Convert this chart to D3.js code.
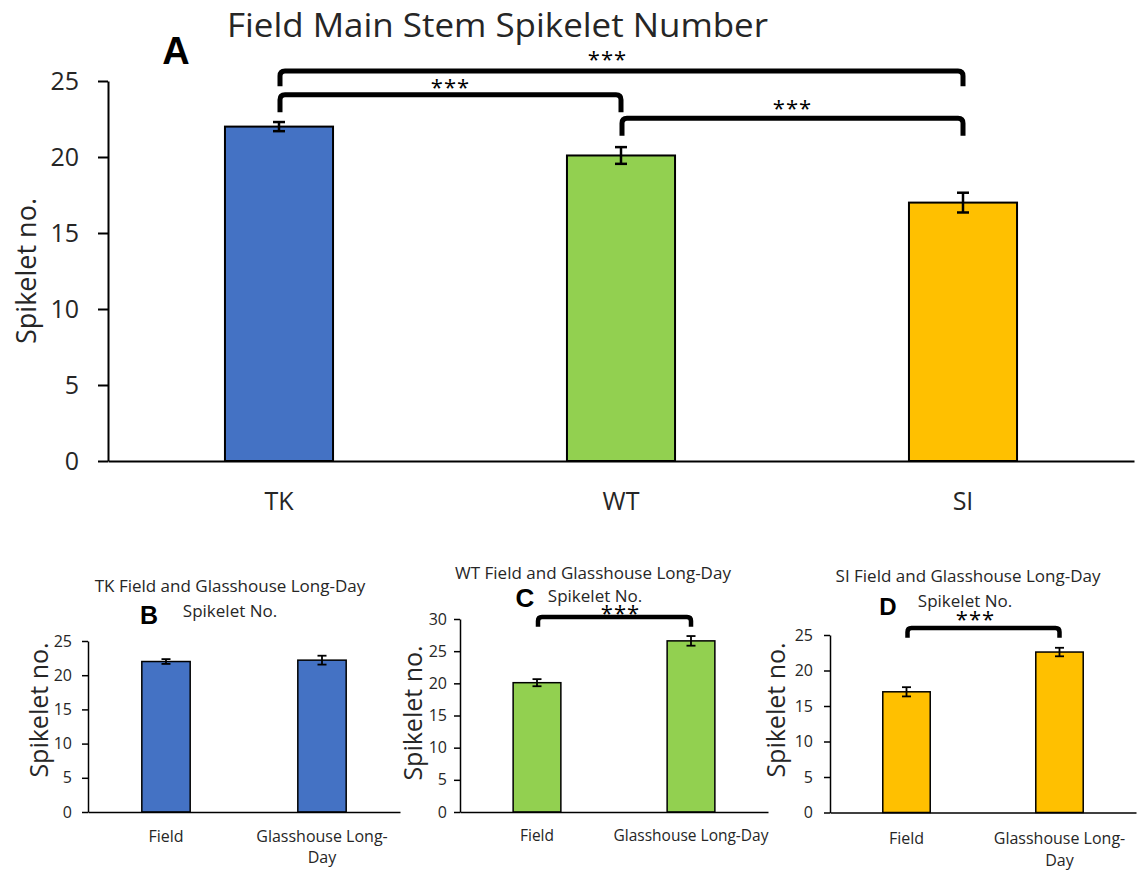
<!DOCTYPE html>
<html>
<head>
<meta charset="utf-8">
<script src="https://cdn.jsdelivr.net/npm/d3@7"></script>
<style>
  html, body { margin: 0; padding: 0; background: #fff; }
  svg { display: block; font-family: "Open Sans", sans-serif; }
</style>
</head>
<body>
<svg id="chart" width="1138" height="870"></svg>
<script>
// ---- Main stem spikelet number of field-grown plants ----
const mainTitle = "Field Main Stem Spikelet Number";
const genotypes = ["TK", "WT", "SI"];
const fieldMeans = [22.0, 20.1, 17.0];
const fieldErrors = [0.3, 0.55, 0.65];
const mainTicks = [0, 5, 10, 15, 20, 25];

// ---- Field vs glasshouse long-day, one small chart per genotype ----
const environments = ["Field", "Glasshouse Long-Day"];
const tkMeans = [22.0, 22.2];
const tkErrors = [0.35, 0.65];
const wtMeans = [20.1, 26.6];
const wtErrors = [0.55, 0.75];
const siMeans = [17.0, 22.6];
const siErrors = [0.65, 0.6];
const tkTicks = [0, 5, 10, 15, 20, 25];
const wtTicks = [0, 5, 10, 15, 20, 25, 30];
const siTicks = [0, 5, 10, 15, 20, 25];

// Category labels, wrapped the way each small chart wraps them
const tkEnvLabels = [["Field"], ["Glasshouse Long-", "Day"]];
const wtEnvLabels = [["Field"], ["Glasshouse Long-Day"]];
const siEnvLabels = [["Field"], ["Glasshouse Long-", "Day"]];

// Significance comparisons: [first index, second index, label]
const mainComparisons = [[0, 2, "***"], [0, 1, "***"], [1, 2, "***"]];
const envComparison = [[0, 1, "***"]];

// Fill colour per genotype
const genotypeColors = { TK: "#4472C4", WT: "#92D050", SI: "#FFC000" };
const textColor = "#262626";

const svg = d3.select("#chart");

function drawPanel(o) {
  const g = svg.append("g");
  const x = d3.scaleBand().domain(o.categories).range([o.left, o.right]).padding(0);
  const y = d3.scaleLinear().domain([0, o.yMax]).range([o.bottom, o.top]);
  const bw = x.bandwidth() * o.barFrac;
  const cx = c => x(c) + x.bandwidth() / 2;
  const rows = o.categories.map((c, i) => ({ c, m: o.means[i], e: o.errors[i] }));

  // bars
  g.append("g").selectAll("rect").data(rows).join("rect")
    .attr("x", d => cx(d.c) - bw / 2)
    .attr("y", d => y(d.m))
    .attr("width", bw)
    .attr("height", d => y(0) - y(d.m))
    .attr("fill", o.color)
    .attr("stroke", "#000")
    .attr("stroke-width", o.barStroke);

  // error bars
  const eb = g.append("g").attr("stroke", "#000").attr("stroke-width", o.errStroke);
  eb.selectAll("line.v").data(rows).join("line").attr("class", "v")
    .attr("x1", d => cx(d.c)).attr("x2", d => cx(d.c))
    .attr("y1", d => y(d.m + d.e)).attr("y2", d => y(d.m - d.e));
  eb.selectAll("line.t").data(rows).join("line").attr("class", "t")
    .attr("x1", d => cx(d.c) - o.cap).attr("x2", d => cx(d.c) + o.cap)
    .attr("y1", d => y(d.m + d.e)).attr("y2", d => y(d.m + d.e));
  eb.selectAll("line.b").data(rows).join("line").attr("class", "b")
    .attr("x1", d => cx(d.c) - o.cap).attr("x2", d => cx(d.c) + o.cap)
    .attr("y1", d => y(d.m - d.e)).attr("y2", d => y(d.m - d.e));

  // category axis
  const gx = g.append("g")
    .attr("transform", `translate(0,${y(0)})`)
    .call(d3.axisBottom(x).tickSize(0).tickSizeOuter(0).tickPadding(0));
  gx.attr("font-family", null).attr("font-size", o.xFont);
  gx.select(".domain").attr("stroke", "#000").attr("stroke-width", o.axisW);
  gx.selectAll(".tick text").each(function (d, i) {
    const t = d3.select(this)
      .attr("dy", null)
      .attr("y", o.xLabelY)
      .attr("fill", textColor)
      .attr("dominant-baseline", "central")
      .text(null);
    o.labels[i].forEach((line, j) => {
      t.append("tspan").attr("x", 0).attr("dy", j ? o.lineH : 0).text(line);
    });
  });

  // value axis
  const gy = g.append("g")
    .attr("transform", `translate(${o.left},0)`)
    .call(d3.axisLeft(y).tickValues(o.ticks).tickSize(o.tickLen).tickSizeOuter(0).tickPadding(o.yPad));
  gy.attr("font-family", null).attr("font-size", o.tickFont);
  gy.select(".domain").attr("stroke", "#000").attr("stroke-width", o.axisW);
  gy.selectAll(".tick line").attr("stroke", "#000").attr("stroke-width", o.axisW);
  gy.selectAll(".tick text").attr("fill", textColor);

  // axis title
  g.append("text")
    .attr("transform", `translate(${o.yTitleX},${o.yTitleY}) rotate(-90)`)
    .attr("text-anchor", "middle")
    .attr("dominant-baseline", "central")
    .attr("font-size", o.yTitleFont)
    .attr("fill", textColor)
    .text("Spikelet no.");

  // significance brackets
  o.comparisons.forEach((cmp, k) => {
    const br = o.brackets[k];
    const x1 = cx(o.categories[cmp[0]]) + 1;
    const x2 = cx(o.categories[cmp[1]]);
    const yt = y(br.level), ye = y(br.end), r = o.bracketR;
    g.append("path")
      .attr("d", `M${x1},${ye} L${x1},${yt + r} Q${x1},${yt} ${x1 + r},${yt} L${x2 - r},${yt} Q${x2},${yt} ${x2},${yt + r} L${x2},${ye}`)
      .attr("fill", "none")
      .attr("stroke", "#000")
      .attr("stroke-width", o.bracketW);
    g.append("text")
      .attr("x", (x1 + x2) / 2 + br.dx)
      .attr("y", yt - br.gap + o.starFont * 0.55)
      .attr("text-anchor", "middle")
      .attr("font-size", o.starFont)
      .attr("letter-spacing", 1)
      .attr("fill", "#000")
      .text(cmp[2]);
  });

  // chart title lines
  o.titleLines.forEach(tl => {
    const t = g.append("text")
      .attr("x", tl.x).attr("y", tl.y)
      .attr("text-anchor", tl.anchor || "middle")
      .attr("dominant-baseline", tl.baseline || "central")
      .attr("font-size", tl.size)
      .attr("fill", textColor)
      .text(tl.text);
    if (tl.length) t.attr("textLength", tl.length).attr("lengthAdjust", "spacingAndGlyphs");
  });

  // panel letter
  g.append("text")
    .attr("x", o.letter.x).attr("y", o.letter.y)
    .attr("text-anchor", "middle")
    .attr("font-family", "'Liberation Sans', Arial, sans-serif")
    .attr("font-weight", "bold")
    .attr("font-size", o.letter.size)
    .attr("fill", "#000")
    .text(o.letter.text);
}

const subStyle = {
  barFrac: 0.31, barStroke: 1.5, errStroke: 1.8, cap: 4.5, axisW: 1.5,
  tickLen: 6, tickFont: 16, xFont: 16, lineH: 21, yTitleFont: 25,
  bracketW: 4.5, bracketR: 4, starFont: 22
};

// A: three genotypes in the field
drawPanel({
  categories: genotypes, means: fieldMeans, errors: fieldErrors, ticks: mainTicks,
  labels: genotypes.map(d => [d]),
  color: d => genotypeColors[d.c],
  left: 108, right: 1134, bottom: 461, top: 81, yMax: 25,
  barFrac: 0.316, barStroke: 2, errStroke: 2.5, cap: 6, axisW: 2,
  tickLen: 10, yPad: 19, tickFont: 25, xFont: 25, xLabelY: 39, lineH: 28,
  yTitleX: 25, yTitleY: 271, yTitleFont: 27,
  comparisons: mainComparisons,
  brackets: [
    { level: 25.65, end: 24.65, dx: -14, gap: 16 },
    { level: 24.1, end: 22.95, dx: 0, gap: 12 },
    { level: 22.55, end: 21.4, dx: 0, gap: 14 }
  ],
  bracketW: 5, bracketR: 5, starFont: 22,
  titleLines: [{ text: mainTitle, x: 227, y: 37, size: 32, anchor: "start", baseline: "alphabetic", length: 541 }],
  letter: { text: "A", x: 176, y: 64, size: 38 }
});

// B: TK field vs glasshouse
drawPanel(Object.assign({}, subStyle, {
  categories: environments, means: tkMeans, errors: tkErrors, ticks: tkTicks,
  labels: tkEnvLabels, color: genotypeColors.TK,
  left: 88, right: 400, bottom: 812, top: 641, yMax: 25,
  yPad: 10, xLabelY: 24,
  yTitleX: 38, yTitleY: 710,
  comparisons: [], brackets: [],
  titleLines: [
    { text: "TK Field and Glasshouse Long-Day", x: 230, y: 585, size: 17 },
    { text: "Spikelet No.", x: 230, y: 610, size: 17 }
  ],
  letter: { text: "B", x: 149, y: 624, size: 25 }
}));

// C: WT field vs glasshouse
drawPanel(Object.assign({}, subStyle, {
  categories: environments, means: wtMeans, errors: wtErrors, ticks: wtTicks,
  labels: wtEnvLabels, color: genotypeColors.WT,
  left: 460, right: 768, bottom: 812, top: 619, yMax: 30,
  yPad: 7, xLabelY: 23, xFont: 15.5,
  yTitleX: 412, yTitleY: 713,
  comparisons: envComparison,
  brackets: [{ level: 30.3, end: 28.8, dx: 6, gap: 8 }],
  titleLines: [
    { text: "WT Field and Glasshouse Long-Day", x: 593, y: 572, size: 17 },
    { text: "Spikelet No.", x: 595, y: 595, size: 17 }
  ],
  letter: { text: "C", x: 525, y: 607, size: 26 }
}));

// D: SI field vs glasshouse
drawPanel(Object.assign({}, subStyle, {
  categories: environments, means: siMeans, errors: siErrors, ticks: siTicks,
  labels: siEnvLabels, color: genotypeColors.SI,
  left: 830, right: 1136, bottom: 812.5, top: 635, yMax: 25,
  yPad: 11, xLabelY: 25, lineH: 22,
  yTitleX: 775, yTitleY: 710,
  comparisons: envComparison,
  brackets: [{ level: 26.0, end: 24.6, dx: -8, gap: 13 }],
  titleLines: [
    { text: "SI Field and Glasshouse Long-Day", x: 968, y: 575, size: 17 },
    { text: "Spikelet No.", x: 965, y: 600, size: 17 }
  ],
  letter: { text: "D", x: 888, y: 615, size: 24 }
}));
</script>
</body>
</html>
